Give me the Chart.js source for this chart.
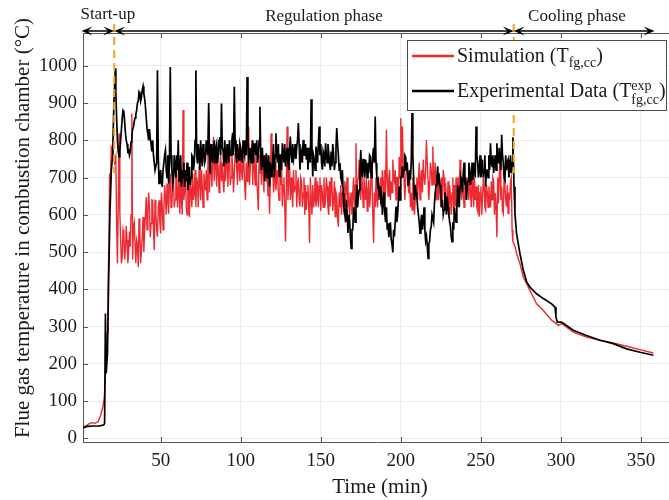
<!DOCTYPE html>
<html>
<head>
<meta charset="utf-8">
<title>Flue gas temperature in combustion chamber</title>
<script src="https://cdn.jsdelivr.net/npm/chart.js@4.4.1/dist/chart.umd.min.js"></script>
<style>
    html, body { margin: 0; padding: 0; background: #fff; }
    #wrap { width: 669px; height: 500px; }
</style>
</head>
<body>
<div id="wrap"><canvas id="tempChart" width="669" height="500"></canvas></div>
<script>
// Values (time in min, temperature in °C)

// start-up (explicit times)
const simStartTime = [1.5, 3, 5, 7, 9, 11, 12.5, 13.9, 14.8, 15.6, 16.5, 17.1, 17.7, 18.1, 18.6, 19.2, 20.2, 21.2];
const simStartTemp = [30, 33, 38, 42, 40, 45, 62, 84, 110, 174, 282, 390, 530, 711, 680, 782, 773, 740];
const expStartTime = [1.5, 4, 8, 12, 14.5, 15.0, 15.5, 16.0, 16.8, 17.5, 18.3, 19.2, 20.0, 20.8, 21.7];
const expStartTemp = [28, 32, 33, 33, 36, 40, 335, 175, 230, 420, 600, 720, 760, 900, 993];

// regulation phase: readings at whole minutes (t = 22 ... 270)
const regStart = 22;
const simRegTemp = [
    756, 469, 818, 532, 487, 550, 505, 532, 496, 514,
    872, 568, 523, 532, 460, 550, 505, 594, 559, 648,
    603, 621, 577, 639, 505, 603, 541, 639, 550, 621,
    612, 648, 684, 603, 711, 621, 693, 640, 729, 657,
    603, 639, 881, 666, 621, 675, 594, 657, 711, 657,
    621, 684, 729, 639, 675, 711, 666, 640, 881, 774,
    675, 809, 774, 675, 720, 729, 690, 693, 760, 738,
    675, 774, 700, 729, 711, 800, 680, 729, 760, 693,
    740, 639, 690, 836, 729, 800, 756, 680, 693, 612,
    711, 680, 729, 760, 693, 650, 603, 818, 747, 690,
    666, 720, 639, 680, 622, 700, 528, 837, 694, 640,
    658, 720, 676, 620, 700, 622, 690, 658, 600, 613,
    680, 524, 640, 680, 640, 622, 690, 676, 610, 658,
    700, 640, 676, 600, 622, 680, 640, 595, 650, 568,
    620, 600, 640, 690, 676, 620, 595, 660, 658, 610,
    792, 690, 748, 640, 676, 700, 640, 610, 694, 650,
    700, 524, 620, 640, 700, 676, 640, 694, 720, 828,
    650, 721, 690, 748, 690, 640, 700, 756, 859, 837,
    700, 694, 740, 658, 620, 613, 680, 640, 700, 694,
    640, 720, 748, 680, 801, 690, 676, 720, 783, 680,
    640, 700, 712, 620, 640, 700, 685, 620, 595, 650,
    658, 600, 622, 680, 700, 748, 640, 658, 700, 640,
    680, 703, 620, 658, 700, 676, 610, 595, 676, 640,
    676, 613, 660, 676, 620, 640, 690, 658, 540, 631,
    760, 676, 603, 676, 622, 604, 640, 700, 528];
// regulation phase: readings at half minutes (t = 22.5 ... 269.5)
const simRegHalf = [
    576, 620, 610, 470, 560, 480, 570, 470, 555, 600,
    480, 580, 470, 520, 590, 470, 540, 500, 600, 560,
    660, 540, 640, 560, 640, 560, 620, 580, 660, 560,
    680, 600, 640, 690, 620, 700, 620, 700, 620, 700,
    690, 600, 640, 720, 600, 720, 700, 620, 640, 720,
    700, 620, 690, 720, 620, 680, 720, 720, 660, 720,
    740, 690, 730, 760, 660, 760, 740, 660, 690, 780,
    740, 680, 760, 660, 760, 720, 780, 690, 720, 760,
    680, 740, 740, 680, 760, 680, 740, 760, 660, 760,
    740, 760, 660, 700, 760, 700, 690, 720, 660, 740,
    700, 660, 720, 740, 680, 620, 680, 640, 740, 700,
    620, 660, 720, 680, 640, 700, 620, 700, 680, 660,
    620, 700, 600, 620, 700, 640, 620, 700, 680, 620,
    620, 700, 620, 690, 700, 610, 690, 660, 590, 660,
    680, 660, 600, 620, 700, 660, 640, 600, 700, 680,
    640, 700, 660, 720, 620, 660, 700, 660, 620, 720,
    600, 660, 700, 620, 640, 700, 720, 640, 660, 700,
    700, 640, 660, 700, 720, 700, 640, 700, 720, 740,
    640, 720, 680, 700, 660, 700, 600, 680, 640, 740,
    700, 660, 700, 720, 740, 640, 740, 680, 700, 740,
    700, 640, 660, 700, 720, 640, 620, 690, 680, 600,
    700, 680, 700, 620, 660, 680, 700, 620, 690, 700,
    640, 660, 700, 620, 640, 620, 680, 660, 600, 700,
    620, 680, 620, 640, 690, 700, 600, 620, 700, 700,
    640, 610, 700, 640, 680, 660, 690, 560];

const expRegTemp = [
    930, 800, 756, 800, 860, 876, 820, 790, 773, 770,
    810, 835, 860, 880, 905, 926, 915, 945, 912, 860,
    818, 830, 790, 800, 740, 720, 988, 684, 720, 675,
    720, 773, 700, 684, 997, 720, 693, 730, 760, 800,
    720, 675, 700, 675, 690, 666, 729, 700, 756, 740,
    987, 738, 760, 800, 730, 773, 750, 780, 900, 711,
    760, 773, 740, 791, 760, 809, 899, 773, 800, 738,
    770, 800, 760, 820, 944, 764, 790, 747, 780, 740,
    773, 800, 970, 747, 780, 773, 740, 790, 800, 760,
    890, 720, 730, 690, 765, 720, 676, 720, 748, 700,
    819, 740, 703, 760, 792, 740, 730, 780, 720, 810,
    740, 748, 790, 783, 846, 721, 770, 801, 760, 748,
    721, 780, 910, 703, 750, 783, 740, 837, 790, 721,
    760, 792, 740, 765, 720, 730, 765, 740, 833, 760,
    739, 690, 658, 604, 640, 551, 586, 510, 560, 604,
    640, 620, 667, 774, 700, 730, 748, 700, 712, 756,
    720, 780, 864, 703, 690, 676, 650, 640, 604, 620,
    577, 560, 533, 499, 542, 622, 600, 676, 700, 730,
    720, 756, 740, 700, 694, 873, 700, 680, 649, 600,
    551, 600, 586, 560, 542, 483, 530, 568, 600, 631,
    680, 730, 700, 658, 640, 613, 640, 649, 600, 568,
    528, 560, 600, 622, 650, 676, 690, 712, 680, 640,
    690, 721, 700, 694, 740, 837, 740, 721, 700, 748,
    720, 676, 720, 760, 792, 730, 712, 760, 792, 740,
    748, 815, 740, 694, 720, 748, 720, 712, 808];
const expRegHalf = [
    860, 770, 770, 830, 880, 850, 800, 770, 760, 795,
    830, 850, 870, 900, 930, 905, 935, 925, 890, 830,
    800, 805, 770, 760, 720, 740, 760, 700, 690, 720,
    760, 720, 760, 740, 760, 680, 760, 700, 720, 690,
    760, 720, 740, 720, 740, 700, 680, 760, 720, 800,
    760, 790, 720, 760, 790, 740, 800, 760, 760, 790,
    740, 800, 780, 740, 800, 760, 780, 730, 760, 790,
    740, 760, 800, 760, 800, 740, 760, 790, 760, 800,
    760, 760, 800, 760, 740, 800, 790, 760, 740, 800,
    760, 780, 760, 740, 700, 760, 740, 700, 790, 760,
    760, 790, 760, 720, 760, 790, 760, 740, 770, 760,
    790, 760, 750, 800, 790, 760, 740, 760, 790, 780,
    760, 740, 780, 760, 720, 760, 790, 760, 740, 770,
    730, 760, 790, 740, 770, 790, 720, 780, 790, 720,
    700, 720, 620, 580, 600, 600, 540, 560, 620, 580,
    680, 650, 720, 720, 750, 700, 730, 740, 760, 700,
    760, 740, 740, 680, 660, 640, 600, 660, 580, 560,
    540, 580, 520, 560, 580, 580, 640, 640, 700, 700,
    760, 720, 680, 720, 740, 760, 640, 660, 620, 580,
    580, 560, 620, 530, 520, 520, 560, 600, 580, 660,
    700, 690, 680, 620, 600, 660, 600, 620, 580, 540,
    580, 620, 580, 680, 620, 700, 660, 740, 700, 680,
    740, 680, 740, 720, 700, 760, 700, 760, 720, 700,
    760, 720, 700, 720, 740, 760, 740, 720, 740, 780,
    720, 760, 700, 760, 740, 700, 760, 740];

// cooling phase (explicit times)
const simCoolTime = [271.3, 272.3, 274.4, 276.5, 278.6, 280.6, 284.8, 289.0, 294.2, 298.4, 300.4, 307.7, 316.0, 324.4, 332.7, 341.0, 349.4, 357.7];
const simCoolTemp = [515, 496, 469, 433, 415, 397, 361, 343, 317, 303, 308, 285, 272, 263, 256, 247, 238, 229];
const expCoolTime = [270.7, 271.3, 272.3, 274.4, 276.5, 278.6, 280.6, 284.8, 289.0, 294.2, 296.3, 296.9, 297.7, 300.4, 307.7, 316.0, 324.4, 332.7, 341.0, 349.4, 357.7];
const expCoolTemp = [675, 603, 549, 496, 451, 420, 406, 388, 375, 361, 352, 326, 312, 312, 290, 276, 263, 254, 240, 231, 223];

// Axes, phases and tick labels
const xTickValues = [50, 100, 150, 200, 250, 300, 350];
const yTickValues = [0, 100, 200, 300, 400, 500, 600, 700, 800, 900, 1000];
const phaseNames = ['Start-up', 'Regulation phase', 'Cooling phase'];
const phaseStart = [1.5, 21, 270.5];
const phaseEnd = [21, 270.5, 358.5];
const phaseLabelAt = [17, 152, 310];
const phaseLineTop = 712; // orange dashed markers go down to this temperature

const SERIF = '"Liberation Serif", "Times New Roman", serif';
const TEXT_COLOR = '#1a1a1a';
const RED = '#ec2a32';

document.addEventListener('DOMContentLoaded', () => {
    renderChart();
});

function toPoints(startT, startV, regV, regHalf, coolT, coolV) {
    const pts = startT.map((t, i) => ({ x: t, y: startV[i] }));
    regV.forEach((v, i) => {
        pts.push({ x: regStart + i, y: v });
        if (i < regHalf.length) pts.push({ x: regStart + i + 0.5, y: regHalf[i] });
    });
    coolT.forEach((t, i) => pts.push({ x: t, y: coolV[i] }));
    return pts;
}

function arrowHead(ctx, tipX, y, dir) {
    const len = 11, hw = 4.5;
    ctx.beginPath();
    ctx.moveTo(tipX, y);
    ctx.lineTo(tipX - dir * len, y - hw);
    ctx.lineTo(tipX - dir * len * 0.55, y);
    ctx.lineTo(tipX - dir * len, y + hw);
    ctx.closePath();
    ctx.fill();
}

// draws text pieces one after the other, sub/superscripts share an x slot
function drawRich(ctx, pieces, x, y) {
    let cx = x;
    pieces.forEach(p => {
        if (p.stack) {
            let w = 0;
            p.stack.forEach(s => {
                ctx.font = s.size + 'px ' + SERIF;
                ctx.fillText(s.text, cx, y + s.dy);
                w = Math.max(w, ctx.measureText(s.text).width);
            });
            cx += w;
        } else {
            ctx.font = p.size + 'px ' + SERIF;
            ctx.fillText(p.text, cx, y + (p.dy || 0));
            cx += ctx.measureText(p.text).width;
        }
    });
}

const decorations = {
    id: 'decorations',
    beforeDatasetsDraw(chart) {
        const { ctx, chartArea: a, scales: { x, y } } = chart;
        ctx.save();
        // top frame line
        ctx.strokeStyle = '#555';
        ctx.lineWidth = 1;
        ctx.beginPath();
        ctx.moveTo(a.left, a.top + 0.5);
        ctx.lineTo(a.right, a.top + 0.5);
        ctx.stroke();
        // inward tick marks
        ctx.beginPath();
        xTickValues.forEach(v => {
            const px = Math.round(x.getPixelForValue(v)) + 0.5;
            ctx.moveTo(px, a.bottom); ctx.lineTo(px, a.bottom - 5);
            ctx.moveTo(px, a.top); ctx.lineTo(px, a.top + 5);
        });
        yTickValues.forEach(v => {
            const py = Math.round(y.getPixelForValue(v)) + 0.5;
            ctx.moveTo(a.left, py); ctx.lineTo(a.left + 5, py);
        });
        ctx.stroke();
        ctx.restore();
    },
    afterDatasetsDraw(chart) {
        const { ctx, chartArea: a, scales: { x, y } } = chart;
        ctx.save();
        // orange dashed phase markers
        ctx.strokeStyle = '#f0a61e';
        ctx.lineWidth = 2;
        ctx.setLineDash([8, 5]);
        [phaseEnd[0], phaseEnd[1]].forEach(t => {
            const px = x.getPixelForValue(t);
            ctx.beginPath();
            ctx.moveTo(px, a.top - 9);
            ctx.lineTo(px, y.getPixelForValue(phaseLineTop));
            ctx.stroke();
        });
        ctx.setLineDash([]);

        // phase arrows above the frame
        const ay = a.top - 2;
        ctx.strokeStyle = '#000';
        ctx.fillStyle = '#000';
        ctx.lineWidth = 1.5;
        phaseNames.forEach((name, i) => {
            const x0 = i === 0 ? a.left - 1.5 : x.getPixelForValue(phaseStart[i]);
            const x1 = x.getPixelForValue(phaseEnd[i]);
            ctx.beginPath();
            ctx.moveTo(x0 + 4, ay);
            ctx.lineTo(x1 - 4, ay);
            ctx.stroke();
            arrowHead(ctx, x0, ay, -1);
            arrowHead(ctx, x1, ay, 1);
        });
        ctx.fillStyle = TEXT_COLOR;
        ctx.font = '17px ' + SERIF;
        ctx.textAlign = 'center';
        ctx.textBaseline = 'alphabetic';
        phaseNames.forEach((name, i) => {
            ctx.fillText(name, x.getPixelForValue(phaseLabelAt[i]), i === 0 ? 19 : 21);
        });

        // legend box
        const lx = 407.5, ly = 40.5, lw = 259, lh = 70;
        ctx.fillStyle = '#fff';
        ctx.fillRect(lx, ly, lw, lh);
        ctx.strokeStyle = '#4d4d4d';
        ctx.lineWidth = 1;
        ctx.strokeRect(lx, ly, lw, lh);
        ctx.lineWidth = 2.5;
        ctx.strokeStyle = RED;
        ctx.beginPath(); ctx.moveTo(412, 56); ctx.lineTo(454, 56); ctx.stroke();
        ctx.strokeStyle = '#000';
        ctx.beginPath(); ctx.moveTo(412, 91); ctx.lineTo(454, 91); ctx.stroke();
        ctx.fillStyle = TEXT_COLOR;
        ctx.textAlign = 'left';
        drawRich(ctx, [
            { text: 'Simulation (T', size: 20 },
            { text: 'fg,cc', size: 14, dy: 5.5 },
            { text: ')', size: 20 }
        ], 457, 61.7);
        drawRich(ctx, [
            { text: 'Experimental Data (T', size: 20 },
            { stack: [{ text: 'exp', size: 14, dy: -6.7 }, { text: 'fg,cc', size: 14, dy: 7.3 }] },
            { text: ')', size: 20 }
        ], 457, 96.7);

        // axis titles
        ctx.font = '21px ' + SERIF;
        ctx.textAlign = 'center';
        ctx.fillText('Time (min)', 380, 493);
        ctx.translate(29, 228);
        ctx.rotate(-Math.PI / 2);
        ctx.fillText('Flue gas temperature in combustion chamber (°C)', 0, 0);
        ctx.restore();
    }
};

function renderChart() {
    const canvas = document.getElementById('tempChart');
    const ctx = canvas.getContext('2d');

    const simPoints = toPoints(simStartTime, simStartTemp, simRegTemp, simRegHalf, simCoolTime, simCoolTemp);
    const expPoints = toPoints(expStartTime, expStartTemp, expRegTemp, expRegHalf, expCoolTime, expCoolTemp);

    new Chart(ctx, {
        type: 'line',
        data: {
            datasets: [{
                label: 'Simulation',
                data: simPoints,
                borderColor: RED,
                borderWidth: 1.4,
                pointRadius: 0,
                tension: 0,
                order: 2
            }, {
                label: 'Experimental Data',
                data: expPoints,
                borderColor: '#000',
                borderWidth: 1.7,
                pointRadius: 0,
                tension: 0,
                order: 1
            }]
        },
        options: {
            responsive: false,
            animation: false,
            devicePixelRatio: 1,
            layout: { padding: { top: 33, right: 0, bottom: 0, left: 0 } },
            plugins: {
                legend: { display: false },
                tooltip: { enabled: false }
            },
            scales: {
                x: {
                    type: 'linear',
                    min: 1.5,
                    max: 367.5,
                    afterBuildTicks: scale => {
                        scale.ticks = xTickValues.map(v => ({ value: v }));
                    },
                    afterFit: scale => { scale.height = 58; },
                    grid: { color: '#ebebeb', drawTicks: false },
                    border: { display: true, color: '#555', width: 1 },
                    ticks: {
                        padding: 8,
                        color: TEXT_COLOR,
                        font: { family: SERIF, size: 19 },
                        callback: v => String(v)
                    }
                },
                y: {
                    min: -10,
                    max: 1088,
                    afterBuildTicks: scale => {
                        scale.ticks = yTickValues.map(v => ({ value: v }));
                    },
                    afterFit: scale => { scale.width = 83; },
                    grid: { color: '#ebebeb', drawTicks: false },
                    border: { display: true, color: '#555', width: 1 },
                    ticks: {
                        padding: 6,
                        color: TEXT_COLOR,
                        font: { family: SERIF, size: 19 },
                        callback: v => String(v)
                    }
                }
            }
        },
        plugins: [decorations]
    });
}
</script>
</body>
</html>
